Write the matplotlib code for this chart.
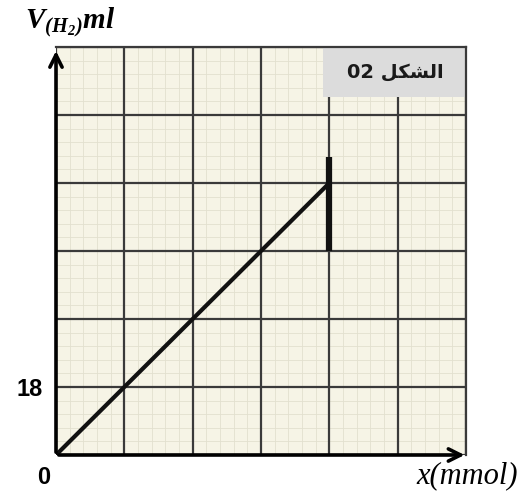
import matplotlib
matplotlib.use("Agg")
import matplotlib.pyplot as plt
from matplotlib.ticker import MultipleLocator
from matplotlib.patches import Rectangle

# ---- data ----
line_x = [0, 4]
line_y = [0, 72]
vseg_x = [4, 4]
vseg_y = [54, 79]
ytick_vals = [18]
ytick_labels = ["18"]
origin_label = "0"
ylabel_text = r"$\mathbf{V_{(H_2)}ml}$"
xlabel_text = "x(mmol)"
# "الشكل 02" in visual order with Arabic presentation forms
fig_label = "02 " + "\uFEDE\uFEDC\uFEB8\uFEDF\uFE8D"

x_max, y_max = 6, 108
x_step, y_step = 1, 18

plt.rcParams['mathtext.fontset'] = 'custom'
plt.rcParams['mathtext.bf'] = 'Liberation Serif:bold:italic'
plt.rcParams['mathtext.rm'] = 'Liberation Serif:bold:italic'
plt.rcParams['mathtext.it'] = 'Liberation Serif:bold:italic'

fig = plt.figure(figsize=(5.21, 4.95), dpi=100)
fig.patch.set_facecolor("white")
ax = fig.add_axes([56/521, 40/495, 410/521, 408/495])
ax.set_facecolor("#f6f4e6")
ax.set_xlim(0, x_max)
ax.set_ylim(0, y_max)

ax.xaxis.set_major_locator(MultipleLocator(x_step))
ax.yaxis.set_major_locator(MultipleLocator(y_step))
ax.xaxis.set_minor_locator(MultipleLocator(x_step / 5))
ax.yaxis.set_minor_locator(MultipleLocator(y_step / 5))
ax.grid(which="minor", color="#e2e0cf", lw=0.6)
ax.set_axisbelow(True)
for xv in range(0, x_max + 1, x_step):
    ax.axvline(xv, color="#3a3a3a", lw=1.6, zorder=1)
for yv in range(0, y_max + 1, y_step):
    ax.axhline(yv, color="#3a3a3a", lw=1.6, zorder=1)
ax.tick_params(which="both", length=0)
ax.set_xticklabels([])
ax.set_yticks([v for v in range(0, y_max + 1, y_step)])
ax.set_yticklabels([ytick_labels[ytick_vals.index(v)] if v in ytick_vals else "" for v in range(0, y_max + 1, y_step)],
                   fontsize=17, fontweight="bold", fontfamily="Liberation Sans")
ax.tick_params(axis="y", pad=9.5)

for s in ["left", "bottom"]:
    ax.spines[s].set_visible(False)
for s in ["top", "right"]:
    ax.spines[s].set_color("#3a3a3a")
    ax.spines[s].set_linewidth(1.6)

# gray label box
ax.add_patch(Rectangle((3.9, 94.8), 2.1, 13.2, facecolor="#dcdcdc", edgecolor="none", zorder=2))
ax.text(4.96, 101.3, fig_label, ha="center", va="center", fontsize=14, fontweight="bold",
        fontfamily="DejaVu Sans", color="#1a1a1a", zorder=3)

# data marks
ax.plot(line_x, line_y, color="#111111", lw=3, solid_capstyle="round", zorder=4)
ax.plot(vseg_x, vseg_y, color="#111111", lw=4.5, solid_capstyle="butt", zorder=4)

# axis arrows
ax.annotate("", xy=(0, y_max - 0.3), xytext=(0, 0),
            arrowprops=dict(arrowstyle="->", lw=2.6, color="black", mutation_scale=22),
            annotation_clip=False, zorder=5)
ax.annotate("", xy=(x_max + 0.02, 0), xytext=(0, 0),
            arrowprops=dict(arrowstyle="->", lw=2.6, color="black", mutation_scale=22),
            annotation_clip=False, zorder=5)

# labels
fig.text(44/521, 1 - 477/495, origin_label, ha="center", va="center", fontsize=17,
         fontweight="bold", fontfamily="Liberation Sans")
fig.text(25/521, 1 - 22/495, ylabel_text, ha="left", va="center", fontsize=21)
fig.text(518/521, 1 - 476/495, xlabel_text, ha="right", va="center", fontsize=22,
         fontstyle="italic", fontfamily="Liberation Serif")

fig.savefig("out.png", dpi=100)
